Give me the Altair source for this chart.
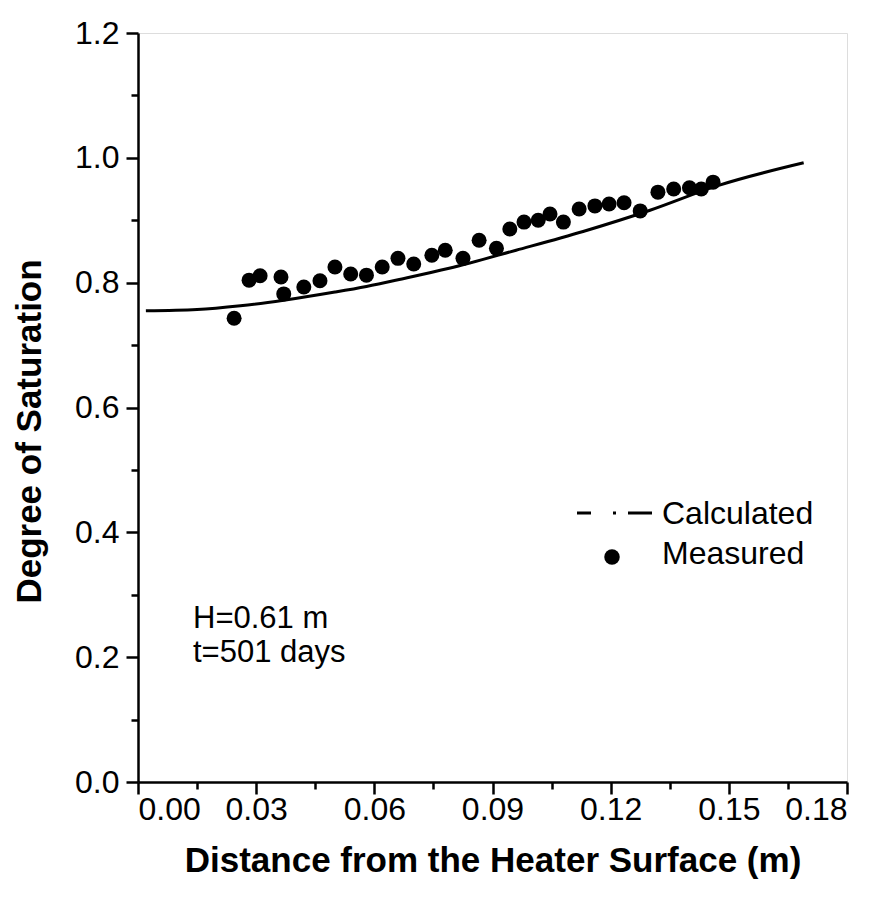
import altair as alt
import pandas as pd

# Measured points
meas_x = [0.0244, 0.0282, 0.0310, 0.0363, 0.0370, 0.0421, 0.0462, 0.0500, 0.0540,
          0.0580, 0.0620, 0.0660, 0.0700, 0.0746, 0.0780, 0.0825, 0.0866, 0.0910,
          0.0944, 0.0980, 0.1016, 0.1046, 0.1080, 0.1120, 0.1160, 0.1196, 0.1234,
          0.1275, 0.1320, 0.1360, 0.1400, 0.1430, 0.1460]
meas_y = [0.743, 0.804, 0.811, 0.809, 0.782, 0.793, 0.803, 0.825, 0.814,
          0.812, 0.825, 0.839, 0.830, 0.844, 0.852, 0.839, 0.868, 0.855,
          0.886, 0.897, 0.900, 0.910, 0.897, 0.918, 0.923, 0.926, 0.928,
          0.915, 0.945, 0.950, 0.952, 0.950, 0.961]

# Calculated curve
calc_x = [0.002, 0.015, 0.026, 0.037, 0.050, 0.058, 0.067, 0.079, 0.096, 0.113, 0.130, 0.147, 0.169]
calc_y = [0.755, 0.757, 0.763, 0.772, 0.785, 0.794, 0.806, 0.823, 0.852, 0.882, 0.916, 0.955, 0.992]

x_major = [0.0, 0.03, 0.06, 0.09, 0.12, 0.15, 0.18]
x_minor = [0.015, 0.045, 0.075, 0.105, 0.135, 0.165]
y_major = [0.0, 0.2, 0.4, 0.6, 0.8, 1.0, 1.2]
y_minor = [0.1, 0.3, 0.5, 0.7, 0.9, 1.1]

legend_labels = ["Calculated", "Measured"]
notes = ["H=0.61 m", "t=501 days"]

FONT = "Liberation Sans"

meas_df = pd.DataFrame({"x": meas_x, "y": meas_y})
calc_df = pd.DataFrame({"x": calc_x, "y": calc_y})

xs = alt.Scale(domain=[0, 0.18], nice=False, zero=False)
ys = alt.Scale(domain=[0, 1.2], nice=False, zero=False)

line = alt.Chart(calc_df).mark_line(color="black", strokeWidth=3, interpolate="monotone").encode(
    x=alt.X("x:Q", scale=xs, axis=alt.Axis(
        values=x_major, format=".2f", title="Distance from the Heater Surface (m)",
        orient="bottom", tickSize=12, tickWidth=2.5, domainWidth=2.5, domainColor="black",
        tickColor="black", labelFont=FONT, labelFontSize=32, labelColor="black",
        labelPadding=0, titleFont=FONT, titleFontSize=35, titleFontWeight="bold",
        titleColor="black", titleY=61, grid=False)),
    y=alt.Y("y:Q", scale=ys, axis=alt.Axis(
        values=y_major, format=".1f", title="Degree of Saturation",
        orient="left", tickSize=12, tickWidth=2.5, domainWidth=2.5, domainColor="black",
        tickColor="black", labelFont=FONT, labelFontSize=32, labelColor="black",
        labelPadding=7, titleFont=FONT, titleFontSize=35, titleFontWeight="bold",
        titleColor="black", titleX=-91, titleY=398, grid=False)),
)

points = alt.Chart(meas_df).mark_circle(size=225, color="black", opacity=1).encode(
    x=alt.X("x:Q", scale=xs, axis=alt.Axis(
        values=x_minor, labels=False, title=None, orient="bottom", tickSize=7,
        tickWidth=2.5, tickColor="black", domain=False, grid=False)),
    y=alt.Y("y:Q", scale=ys, axis=alt.Axis(
        values=y_minor, labels=False, title=None, orient="left", tickSize=7,
        tickWidth=2.5, tickColor="black", domain=False, grid=False)),
)

leg_line = alt.Chart(pd.DataFrame({"k": [legend_labels[0]]})).mark_rule(
    color="black", strokeWidth=3, strokeDash=[14, 22, 3, 12, 24, 200]
).encode(x=alt.value(439), x2=alt.value(514), y=alt.value(480))

leg_dot = alt.Chart(pd.DataFrame({"k": [legend_labels[1]]})).mark_circle(
    size=240, color="black", opacity=1
).encode(x=alt.value(474), y=alt.value(524))

leg_text = alt.Chart(pd.DataFrame({"t": legend_labels, "yy": [481, 521]})).mark_text(
    align="left", baseline="middle", font=FONT, fontSize=32, color="black"
).encode(text="t:N", x=alt.value(524), y=alt.Y("yy:Q", scale=None))

note_text = alt.Chart(pd.DataFrame({"t": notes, "yy": [586, 620]})).mark_text(
    align="left", baseline="middle", font=FONT, fontSize=31, color="black"
).encode(text="t:N", x=alt.value(55), y=alt.Y("yy:Q", scale=None))

chart = alt.layer(line, points, leg_line, leg_dot, leg_text, note_text).resolve_axis(
    x="independent", y="independent"
).properties(
    width=709, height=749,
    autosize=alt.AutoSizeParams(type="none"),
    padding={"left": 130, "top": 25, "right": 21, "bottom": 111},
).configure_view(stroke="black", strokeWidth=2.5).configure(background="white")

chart.save("out.html", embed_options={"renderer": "svg", "actions": False})
